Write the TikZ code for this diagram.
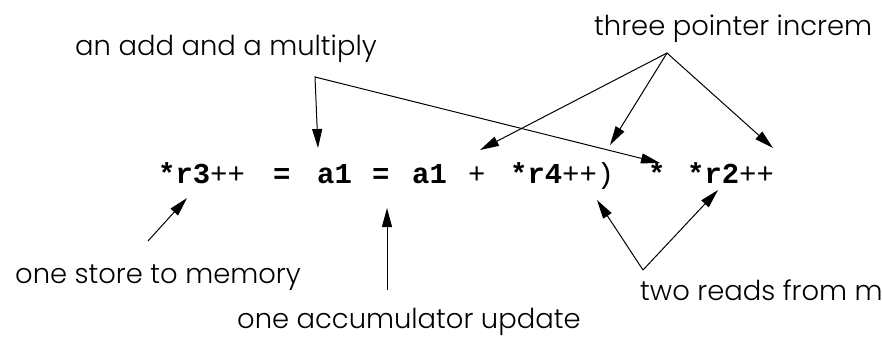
\documentclass[tikz,border=0pt]{standalone}
\usepackage{fontspec}
\setmainfont{Poppins Light}
\setmonofont{Liberation Mono}
\usetikzlibrary{arrows.meta}
\tikzset{
  note/.style ={font=\fontsize{27.5}{30}\selectfont, inner sep=0pt, anchor=base west},
  code/.style ={font=\ttfamily\fontsize{29}{32}\selectfont, inner sep=0pt, anchor=base west},
  arr/.style  ={-{Triangle[length=19bp, width=10bp]}, line width=1bp},
  arrs/.style ={{Triangle[length=19bp, width=10bp]}-{Triangle[length=19bp, width=10bp]}, line width=1bp},
}

\begin{document}
\begin{tikzpicture}[x=1bp, y=-1bp]
  \useasboundingbox (0,0) rectangle (882,338);
  \clip (0,0) rectangle (882,338);

  % labels
  \node[note] (addmul) at (75,55)  {an add and a multiply};
  \node[note] (incr)   at (594,35) {three pointer increm};
  \node[note] (store)  at (15,283) {one store to memory};
  \node[note] (accum)  at (237,328) {one accumulator update};
  \node[note] (reads)  at (640,300) {two reads from m};

  % the statement
  \node[code] (r3)  at (158,183) {\textbf{*r3}++};
  \node[code] (eqa) at (273,183) {\textbf{=}};
  \node[code] (a1a) at (317,183) {\textbf{a1}};
  \node[code] (eqb) at (372,183) {\textbf{=}};
  \node[code] (a1b) at (412,183) {\textbf{a1}};
  \node[code] (pl)  at (468,183) {+};
  \node[code] (r4)  at (510,183) {\textbf{*r4}++)};
  \node[code] (mul) at (648,183) {\textbf{*}};
  \node[code] (r2)  at (687,183) {\textbf{*r2}++};

  % corners and tips
  \coordinate (addc) at (315,77);
  \coordinate (incc) at (667,53);
  \coordinate (redc) at (643,270);
  \coordinate (stot) at (148,241);
  \coordinate (accb) at (387,290);
  \coordinate (tipa) at (318,148);
  \coordinate (tipm) at (660,163);
  \coordinate (tipb) at (480,150);
  \coordinate (tipc) at (610,145);
  \coordinate (tipd) at (773,148);
  \coordinate (tips) at (187,198);
  \coordinate (tipu) at (387,208);
  \coordinate (tipe) at (597,200);
  \coordinate (tipf) at (718,190);

  \draw[arrs] (tipa) -- (addc) -- (tipm);
  \draw[arr] (incc) -- (tipb);
  \draw[arr] (incc) -- (tipc);
  \draw[arr] (incc) -- (tipd);
  \draw[arr] (stot) -- (tips);
  \draw[arr] (accb) -- (tipu);
  \draw[arr] (redc) -- (tipe);
  \draw[arr] (redc) -- (tipf);
\end{tikzpicture}
\end{document}
